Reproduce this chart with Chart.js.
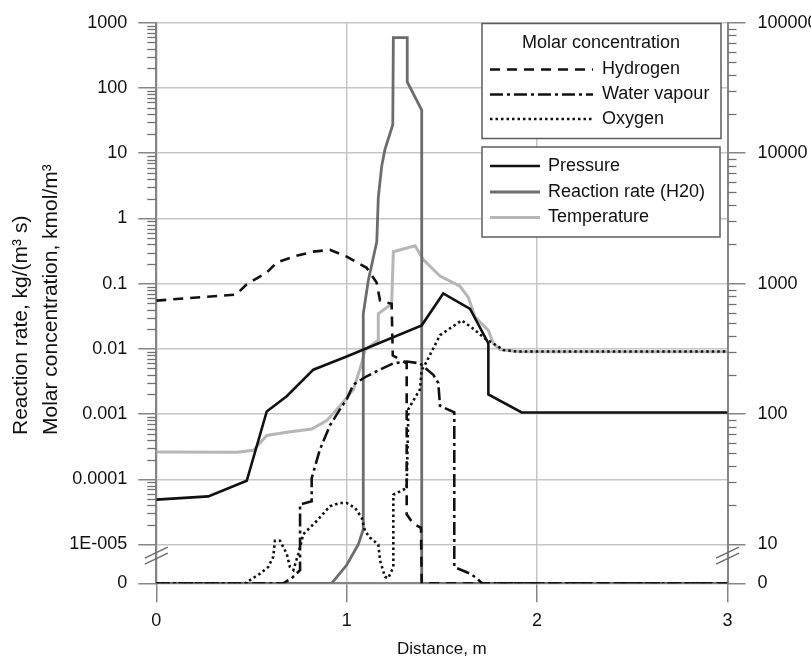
<!DOCTYPE html>
<html>
<head>
<meta charset="utf-8">
<script src="https://cdn.jsdelivr.net/npm/chart.js@4/dist/chart.umd.min.js"></script>
<style>
  html, body { margin: 0; padding: 0; background: #fff; }
</style>
</head>
<body>
<canvas id="reactor-chart" width="811" height="664"></canvas>
<script>
/* values, distance in m */

// left axis series (kmol/m3 and kg/(m3 s))
let hydrogenX = [0, 0.42, 0.475, 0.58, 0.632, 0.72, 0.824, 0.912, 1.0, 1.105, 1.157, 1.175, 1.236, 1.242, 1.28, 1.315, 1.315, 1.349, 1.39, 1.394, 3]
let hydrogen = [0.055, 0.068, 0.098, 0.148, 0.21, 0.26, 0.31, 0.33, 0.26, 0.175, 0.104, 0.055, 0.049, 0.0079, 0.0069, 0.006, 2.9e-5, 2.1e-5, 1.8e-5, 0, 0]

let waterX = [0, 0.667, 0.711, 0.755, 0.755, 0.816, 0.816, 0.86, 0.912, 0.965, 1.0, 1.035, 1.105, 1.175, 1.245, 1.315, 1.385, 1.411, 1.455, 1.481, 1.49, 1.565, 1.565, 1.648, 1.683, 1.71, 3]
let water = [0, 0, 1.3e-6, 3.4e-6, 4.1e-5, 4.6e-5, 1.04e-4, 2.9e-4, 6.7e-4, 1.19e-3, 1.68e-3, 2.83e-3, 3.8e-3, 4.8e-3, 6.0e-3, 6.4e-3, 6.0e-3, 5.1e-3, 4.0e-3, 3.0e-3, 1.34e-3, 1.06e-3, 4.2e-6, 2.5e-6, 1.3e-6, 0, 0]

let oxygenX = [0, 0.466, 0.545, 0.588, 0.614, 0.623, 0.65, 0.685, 0.702, 0.72, 0.746, 0.772, 0.842, 0.912, 0.965, 1.0, 1.044, 1.079, 1.096, 1.122, 1.166, 1.175, 1.201, 1.218, 1.245, 1.245, 1.297, 1.315, 1.324, 1.385, 1.394, 1.411, 1.481, 1.49, 1.604, 1.665, 1.726, 1.77, 1.823, 1.893, 3]
let oxygen = [0, 0, 2.5e-6, 4.2e-6, 6.8e-6, 1.14e-5, 1.14e-5, 7.6e-6, 4.2e-6, 3.4e-6, 7.6e-6, 1.44e-5, 2.29e-5, 3.87e-5, 4.34e-5, 4.34e-5, 3.64e-5, 2.57e-5, 1.62e-5, 1.28e-5, 1.0e-5, 5.9e-6, 1.7e-6, 1.3e-6, 4.2e-6, 5.8e-5, 6.9e-5, 7.3e-5, 1.19e-3, 2.4e-3, 4.8e-3, 5.7e-3, 0.0144, 0.0162, 0.0273, 0.0204, 0.0144, 0.0121, 0.0096, 0.0091, 0.0091]

let reactionX = [0, 0.921, 1.0, 1.061, 1.087, 1.087, 1.113, 1.158, 1.166, 1.184, 1.201, 1.242, 1.245, 1.318, 1.318, 1.394, 1.394, 3]
let reaction = [0, 0, 4.7e-6, 1.0e-5, 1.7e-5, 0.0344, 0.11, 0.44, 2.1, 6.4, 11.5, 27.4, 593, 593, 124, 46, 0, 0]

// right axis series
let pressureX = [0, 0.273, 0.475, 0.58, 0.685, 0.825, 1.0, 1.394, 1.507, 1.648, 1.744, 1.744, 1.919, 3]
let pressure = [22.1, 23.4, 30.8, 104.7, 137, 219, 276, 479, 841, 640, 348, 141.6, 102.8, 102.8]

let temperatureX = [0, 0.422, 0.51, 0.58, 0.685, 0.816, 0.895, 0.965, 1.035, 1.079, 1.096, 1.166, 1.166, 1.236, 1.245, 1.359, 1.402, 1.49, 1.595, 1.639, 1.674, 1.744, 1.77, 1.805, 1.91, 3]
let temperature = [51.3, 51, 52.7, 68.5, 72.6, 76.9, 89, 115.6, 154, 245, 310, 369, 588, 698, 1758, 1950, 1531, 1143, 955, 785, 555, 438, 348, 313, 301, 301]

// tick labels
let leftTickLabels = ['0', '1E-005', '0.0001', '0.001', '0.01', '0.1', '1', '10', '100', '1000']
let rightTickLabels = ['0', '10', '100', '1000', '10000', '100000']
let xTickLabels = ['0', '1', '2', '3']

let seriesNames = ['Hydrogen', 'Water vapour', 'Oxygen', 'Pressure', 'Reaction rate (H20)', 'Temperature']
let legendTitle = 'Molar concentration'
let yTitleLines = ['Reaction rate, kg/(m³ s)', 'Molar concentration, kmol/m³']


// broken log axes: a short linear stretch from 0 up to the first decade
const ZERO_L = -5.595
const ZERO_R = (ZERO_L + 7) / 2

function leftPos(v) {
    if (v >= 1e-5) return Math.log10(v)
    return ZERO_L + (v / 1e-5) * (-5 - ZERO_L)
}
function rightPos(v) {
    if (v >= 10) return Math.log10(v)
    return ZERO_R + (v / 10) * (1 - ZERO_R)
}
function points(xs, ys, fn) {
    return xs.map((x, i) => ({x: x, y: fn(ys[i])}))
}

let leftTicks = [ZERO_L, -5, -4, -3, -2, -1, 0, 1, 2, 3]
let rightTicks = [ZERO_R, 1, 2, 3, 4, 5]

const FONT = 'Arial, "Liberation Sans", sans-serif'
const GRID = '#c6c6c6'
const AXIS = '#858585'
const TEXT = '#111'

// minor log ticks + the // break marks
let axisDecor = {
    id: 'axisDecor',
    afterDraw(chart) {
        let ctx = chart.ctx
        let yl = chart.scales.y
        let yr = chart.scales.y1
        let area = chart.chartArea
        ctx.save()
        ctx.strokeStyle = '#707070'
        ctx.lineWidth = 1.3
        for (let k = -5; k < 3; k++) {
            for (let m = 2; m <= 9; m++) {
                let py = Math.round(yl.getPixelForValue(k + Math.log10(m))) + 0.5
                ctx.beginPath()
                ctx.moveTo(area.left - 9, py)
                ctx.lineTo(area.left, py)
                ctx.stroke()
            }
        }
        for (let k = 1; k < 5; k++) {
            for (let m = 2; m <= 9; m++) {
                let py = Math.round(yr.getPixelForValue(k + Math.log10(m))) + 0.5
                ctx.beginPath()
                ctx.moveTo(area.right, py)
                ctx.lineTo(area.right + 9, py)
                ctx.stroke()
            }
        }
        // break marks
        let yb = yl.getPixelForValue(-5.17)
        ctx.strokeStyle = '#6a6a6a'
        ctx.lineWidth = 1.4
        for (let ax of [area.left, area.right]) {
            for (let off of [-3, 3]) {
                ctx.beginPath()
                ctx.moveTo(ax - 11.5, yb + off + 5.5)
                ctx.lineTo(ax + 11.5, yb + off - 5.5)
                ctx.stroke()
            }
        }
        ctx.restore()
    }
}

// two-line left axis title, both lines start at the same height
let leftTitle = {
    id: 'leftTitle',
    afterDraw(chart, args, opts) {
        let ctx = chart.ctx
        ctx.save()
        ctx.font = opts.size + 'px ' + FONT
        ctx.fillStyle = TEXT
        ctx.textAlign = 'left'
        ctx.textBaseline = 'middle'
        opts.lines.forEach((line, i) => {
            ctx.save()
            ctx.translate(opts.x[i], opts.y)
            ctx.rotate(-Math.PI / 2)
            ctx.fillText(line, 0, 0)
            ctx.restore()
        })
        ctx.restore()
    }
}

// two boxed legends drawn from the dataset styles
let boxedLegend = {
    id: 'boxedLegend',
    afterDraw(chart, args, opts) {
        let ctx = chart.ctx
        ctx.save()
        for (let box of opts.boxes) {
            ctx.fillStyle = '#fff'
            ctx.fillRect(box.left, box.top, box.width, box.height)
            ctx.strokeStyle = '#5c5c5c'
            ctx.lineWidth = 1.5
            ctx.strokeRect(box.left, box.top, box.width, box.height)
            ctx.font = '18px ' + FONT
            ctx.fillStyle = TEXT
            ctx.textBaseline = 'middle'
            if (box.title) {
                ctx.textAlign = 'center'
                ctx.fillText(box.title, box.titleX, box.titleY)
            }
            ctx.textAlign = 'left'
            box.items.forEach((idx, r) => {
                let ds = chart.data.datasets[idx]
                let y = box.rowY[r]
                ctx.save()
                ctx.strokeStyle = ds.borderColor
                ctx.lineWidth = ds.borderWidth
                ctx.setLineDash(ds.borderDash || [])
                ctx.beginPath()
                ctx.moveTo(box.lineFrom, y)
                ctx.lineTo(box.lineTo, y)
                ctx.stroke()
                ctx.restore()
                ctx.fillText(ds.label, box.textX, y)
            })
        }
        ctx.restore()
    }
}

let chartCanvas = document.querySelector('#reactor-chart')
let context = chartCanvas.getContext('2d')

let reactorChart = new Chart(context, {
    type: 'line',
    data: {
        datasets: [
            {label: seriesNames[0], data: points(hydrogenX, hydrogen, leftPos), yAxisID: 'y',
             borderColor: '#111', borderWidth: 2.6, borderDash: [10, 7]},
            {label: seriesNames[1], data: points(waterX, water, leftPos), yAxisID: 'y',
             borderColor: '#111', borderWidth: 2.6, borderDash: [13, 4, 3, 4]},
            {label: seriesNames[2], data: points(oxygenX, oxygen, leftPos), yAxisID: 'y',
             borderColor: '#111', borderWidth: 2.6, borderDash: [2.5, 3]},
            {label: seriesNames[3], data: points(pressureX, pressure, rightPos), yAxisID: 'y1',
             borderColor: '#111', borderWidth: 2.6},
            {label: seriesNames[4], data: points(reactionX, reaction, leftPos), yAxisID: 'y',
             borderColor: '#6c6c6c', borderWidth: 2.8},
            {label: seriesNames[5], data: points(temperatureX, temperature, rightPos), yAxisID: 'y1',
             borderColor: '#b6b6b6', borderWidth: 3}
        ]
    },
    options: {
        responsive: false,
        animation: false,
        devicePixelRatio: 1,
        layout: {padding: {top: 15, left: 0, right: 0, bottom: 0}},
        elements: {
            point: {radius: 0},
            line: {tension: 0, fill: false, borderCapStyle: 'butt', borderJoinStyle: 'miter'}
        },
        plugins: {
            legend: {display: false},
            tooltip: {enabled: false},
            leftTitle: {lines: yTitleLines, size: 21, x: [21, 51], y: 435},
            boxedLegend: {
                boxes: [
                    {left: 482, top: 23.5, width: 239, height: 115, title: legendTitle, titleX: 601, titleY: 43.5,
                     items: [0, 1, 2], rowY: [69.5, 94.5, 119], lineFrom: 490, lineTo: 593, textX: 602},
                    {left: 482, top: 147, width: 238, height: 90,
                     items: [3, 4, 5], rowY: [166, 192, 217.5], lineFrom: 490, lineTo: 540, textX: 548}
                ]
            }
        },
        scales: {
            x: {
                type: 'linear',
                min: 0,
                max: 3,
                afterBuildTicks: (scale) => { scale.ticks = xTickLabels.map((t, i) => ({value: i})) },
                afterFit: (scale) => { scale.height = 80.7 },
                ticks: {
                    callback: (v, i) => xTickLabels[i],
                    color: TEXT, font: {size: 18, family: FONT}, padding: 8, maxRotation: 0
                },
                grid: {color: GRID, lineWidth: 1.5, tickColor: AXIS, tickLength: 19},
                border: {color: AXIS, width: 2},
                title: {display: true, text: 'Distance, m', color: TEXT,
                        font: {size: 17, family: FONT}, padding: {top: 0, bottom: 4}}
            },
            y: {
                type: 'linear',
                position: 'left',
                min: ZERO_L,
                max: 3,
                afterBuildTicks: (scale) => { scale.ticks = leftTicks.map(v => ({value: v})) },
                afterFit: (scale) => { scale.width = 156.3 },
                ticks: {
                    callback: (v, i) => leftTickLabels[i],
                    color: TEXT, font: {size: 18, family: FONT}, padding: 11, autoSkip: false
                },
                grid: {color: GRID, lineWidth: 1.5, tickColor: AXIS, tickLength: 18},
                border: {color: AXIS, width: 2}
            },
            y1: {
                type: 'linear',
                position: 'right',
                min: ZERO_R,
                max: 5,
                afterBuildTicks: (scale) => { scale.ticks = rightTicks.map(v => ({value: v})) },
                afterFit: (scale) => { scale.width = 83.5 },
                ticks: {
                    callback: (v, i) => rightTickLabels[i],
                    color: TEXT, font: {size: 18, family: FONT}, padding: 12, autoSkip: false
                },
                grid: {drawOnChartArea: false, tickColor: AXIS, tickLength: 18, lineWidth: 1.5},
                border: {color: AXIS, width: 2}
            }
        }
    },
    plugins: [axisDecor, leftTitle, boxedLegend]
})
</script>
</body>
</html>
